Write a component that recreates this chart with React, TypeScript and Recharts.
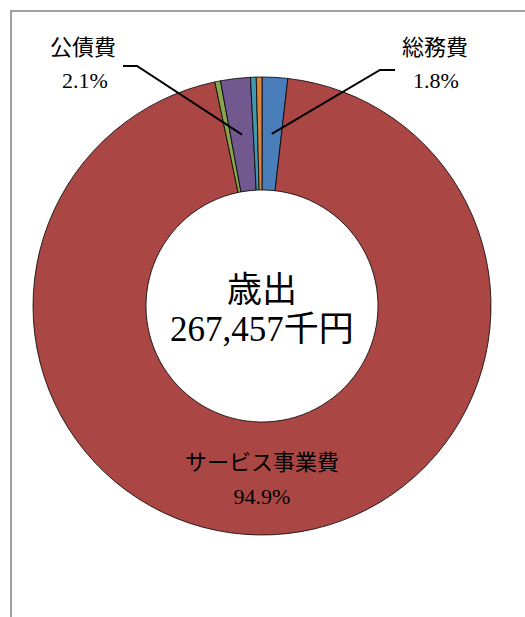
import React from "react";
import { PieChart, Pie, Cell } from "recharts";

const categories = ["総務費", "サービス事業費", "諸支出金", "公債費", "予備費", "その他"];
const amounts = [4814, 253817, 1070, 5617, 1070, 1069];
const colors = ["#4A7EBB", "#AA4643", "#89A54E", "#71588F", "#4198AF", "#DB843D"];
const pctLabels = ["1.8%", "94.9%", "", "2.1%", "", ""];
const centerTitle = "歳出";
const centerTotal = "267,457千円";

const data = categories.map((name, i) => ({ name, value: amounts[i] }));

const RADIAN = Math.PI / 180;
const FONT = "'Liberation Serif', 'DejaVu Serif', 'Noto Sans CJK JP', serif";

const T = (p: { x: number; y: number; s: number; c: string }) => (
  <text x={p.x} y={p.y} textAnchor="middle" dominantBaseline="central" fontSize={p.s} fontFamily={FONT} fill="#000">
    {p.c}
  </text>
);

const renderLabel = (props: any) => {
  const { cx, cy, midAngle, innerRadius, outerRadius, index, name } = props;
  const mr = (innerRadius + outerRadius) / 2;
  const ax = cx + mr * Math.cos(-midAngle * RADIAN);
  const ay = cy + mr * Math.sin(-midAngle * RADIAN);
  if (index === 0) {
    return (
      <g>
        <polyline points={`${ax},${ay} ${cx + 118},${cy - 236} ${cx + 133},${cy - 236}`} fill="none" stroke="#000" strokeWidth={2} />
        <T x={cx + 173} y={cy - 259} s={22} c={name} />
        <T x={cx + 174} y={cy - 226} s={22} c={pctLabels[index]} />
      </g>
    );
  }
  if (index === 3) {
    return (
      <g>
        <polyline points={`${ax},${ay} ${cx - 125},${cy - 240} ${cx - 139},${cy - 240}`} fill="none" stroke="#000" strokeWidth={2} />
        <T x={cx - 179} y={cy - 259} s={22} c={name} />
        <T x={cx - 177} y={cy - 226} s={22} c={pctLabels[index]} />
      </g>
    );
  }
  if (index === 1) {
    return (
      <g>
        <T x={cx} y={cy + 156} s={22} c={name} />
        <T x={cx} y={cy + 190} s={22} c={pctLabels[index]} />
        <T x={cx} y={cy - 16} s={35} c={centerTitle} />
        <T x={cx} y={cy + 23} s={35} c={centerTotal} />
      </g>
    );
  }
  return null;
};

export default function App() {
  return (
    <div style={{ position: "absolute", left: 0, top: 0, width: 525, height: 617, background: "#fff", overflow: "hidden" }}>
      <div style={{ position: "absolute", left: 10, top: 10, width: 600, height: 700, borderLeft: "2px solid #a0a0a0", borderTop: "2px solid #a0a0a0" }} />
      <div style={{ position: "absolute", left: 0, top: 0 }}>
        <PieChart width={525} height={617} margin={{ top: 0, right: 0, bottom: 0, left: 0 }}>
          <Pie
            data={data}
            dataKey="value"
            nameKey="name"
            cx={262}
            cy={306}
            innerRadius={116}
            outerRadius={229}
            startAngle={90}
            endAngle={-270}
            stroke="#000"
            strokeWidth={0.8}
            label={renderLabel}
            labelLine={false}
            isAnimationActive={false}
          >
            {data.map((d, i) => (
              <Cell key={d.name} fill={colors[i]} />
            ))}
          </Pie>
        </PieChart>
      </div>
    </div>
  );
}
